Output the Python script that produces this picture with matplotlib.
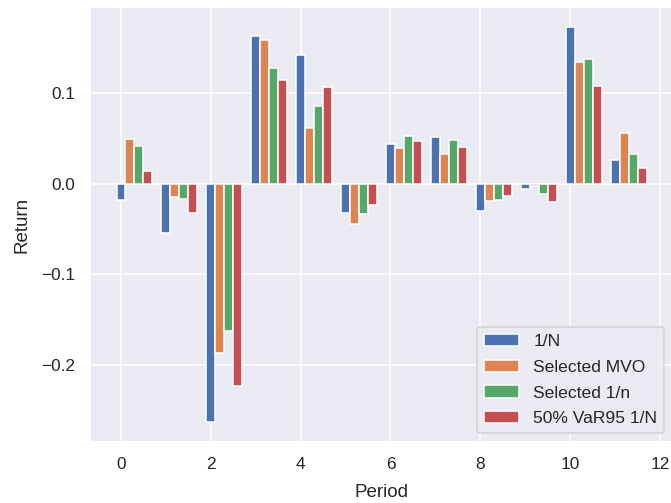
import numpy as np
import matplotlib
matplotlib.use("Agg")
import matplotlib.pyplot as plt
import seaborn as sns

sns.set_theme()
plt.rcParams['font.family'] = ['Liberation Sans', 'DejaVu Sans']

periods = np.arange(12)
series_names = ["1/N", "Selected MVO", "Selected 1/n", "50% VaR95 1/N"]
one_over_N = [-0.018, -0.054, -0.263, 0.163, 0.142, -0.032, 0.044, 0.051, -0.030, -0.006, 0.173, 0.026]
selected_mvo = [0.049, -0.015, -0.187, 0.158, 0.061, -0.044, 0.039, 0.033, -0.019, -0.003, 0.134, 0.056]
selected_1n = [0.042, -0.017, -0.162, 0.127, 0.086, -0.033, 0.053, 0.048, -0.018, -0.011, 0.137, 0.033]
var95_1N = [0.014, -0.032, -0.223, 0.114, 0.107, -0.023, 0.047, 0.040, -0.014, -0.020, 0.108, 0.017]
values = [one_over_N, selected_mvo, selected_1n, var95_1N]

DPI = 112.5
fig = plt.figure(figsize=(671 / DPI, 503 / DPI), dpi=DPI)
ax = fig.add_axes([90/671, 61/503, 583/671, 435/503])
w = 0.2
for k, (name, vals) in enumerate(zip(series_names, values)):
    ax.bar(periods + k * w, vals, width=w, label=name)

ax.set_xlabel("Period", labelpad=7.5)
ax.set_ylabel("Return", labelpad=7)
ax.set_xticks([0, 2, 4, 6, 8, 10, 12])
ax.set_yticks([-0.2, -0.1, 0.0, 0.1])
ax.legend(loc="lower right", fontsize=11.2, labelspacing=0.6)
fig.savefig("out.png", dpi=DPI)
